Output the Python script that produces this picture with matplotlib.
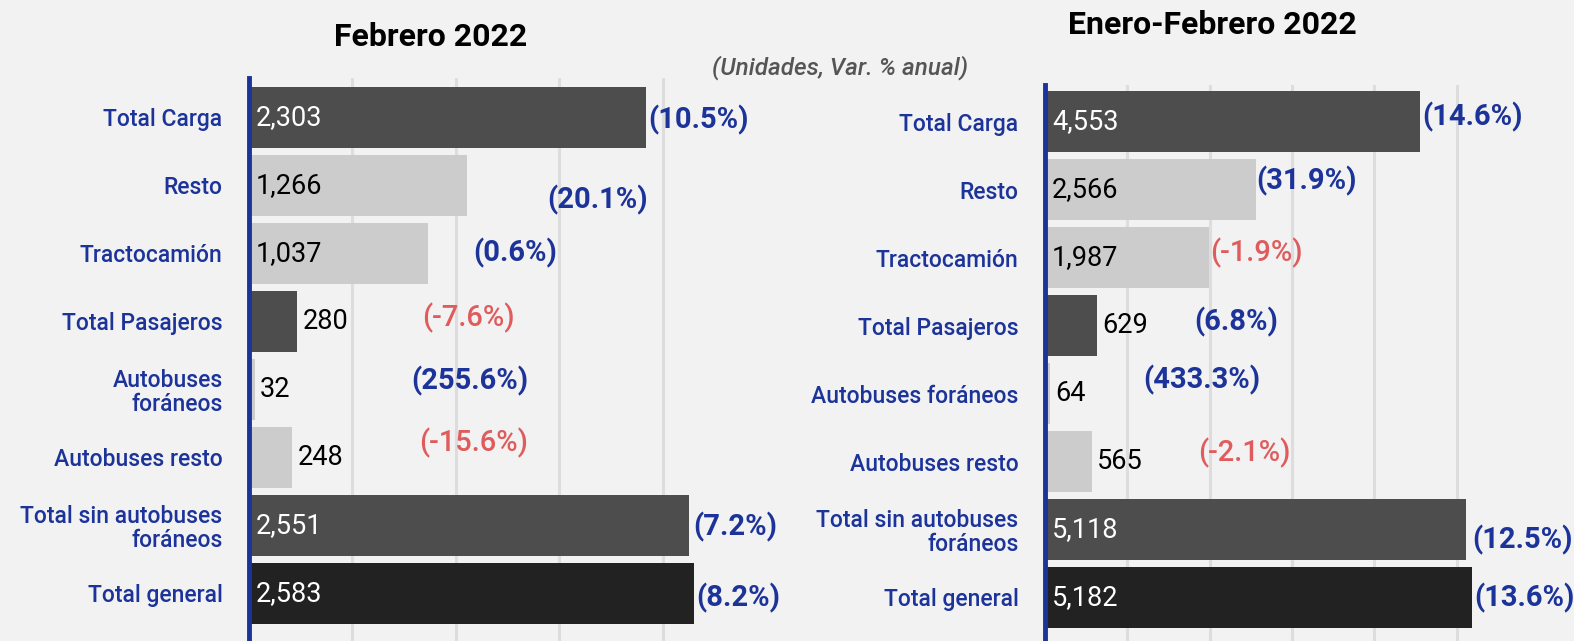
import matplotlib.pyplot as plt
import numpy as np

plt.rcParams['font.family'] = ['Roboto', 'DejaVu Sans']

# categorías
categorias = ['Total Carga', 'Resto', 'Tractocamión', 'Total Pasajeros',
              'Autobuses\nforáneos', 'Autobuses resto',
              'Total sin autobuses\nforáneos', 'Total general']
categorias_der = ['Total Carga', 'Resto', 'Tractocamión', 'Total Pasajeros',
                  'Autobuses foráneos', 'Autobuses resto',
                  'Total sin autobuses\nforáneos', 'Total general']

# Febrero 2022
feb_unidades = [2303, 1266, 1037, 280, 32, 248, 2551, 2583]
feb_var = [10.5, 20.1, 0.6, -7.6, 255.6, -15.6, 7.2, 8.2]

# Enero-Febrero 2022
ene_feb_unidades = [4553, 2566, 1987, 629, 64, 565, 5118, 5182]
ene_feb_var = [14.6, 31.9, -1.9, 6.8, 433.3, -2.1, 12.5, 13.6]

# colores de barras
colores_barras = ['#4d4d4d', '#cccccc', '#cccccc', '#4d4d4d',
                  '#cccccc', '#cccccc', '#4d4d4d', '#222222']

azul = '#1c3399'
rojo = '#e05c5c'
fondo = '#f2f2f2'

# posición de las etiquetas de variación (x en unidades, desplazamiento vertical)
pos_var_izq = [(2316, 0.04), (1731, 0.22), (1304, 0.0), (1006, -0.05),
               (942, -0.13), (988, -0.22), (2579, 0.03), (2596, 0.06)]
pos_var_der = [(4583, -0.07), (2561, -0.13), (2010, -0.07), (1814, -0.06),
               (1189, -0.2), (1863, -0.13), (5184, 0.16), (5208, 0.0)]


def dibujar(ax, valores, variaciones, etiquetas, pos_var, ticks, xmax, ymin, ymax):
    ax.set_facecolor(fondo)
    y = np.arange(len(valores))
    ax.barh(y, valores, height=0.9, color=colores_barras, zorder=2)
    ax.set_xlim(0, xmax)
    ax.set_ylim(ymax, ymin)
    ax.set_xticks(ticks)
    ax.set_xticklabels([])
    ax.grid(axis='x', color='#dddddd', linewidth=2.2, zorder=0)
    ax.tick_params(length=0)
    for s in ['top', 'right', 'bottom']:
        ax.spines[s].set_visible(False)
    ax.spines['left'].set_color(azul)
    ax.spines['left'].set_linewidth(3.5)
    ax.spines['left'].set_zorder(3)
    ax.set_yticks(y)
    ax.set_yticklabels(etiquetas, color=azul, fontsize=16.5, fontweight='medium',
                       linespacing=1.05)
    ax.tick_params(axis='y', pad=19)

    pad = xmax * 0.006
    for i, v in enumerate(valores):
        texto = f'{v:,}'
        if v > xmax * 0.2:
            col = 'white' if colores_barras[i] != '#cccccc' else 'black'
            ax.text(pad * 2.3, i, texto, va='center', ha='left', fontsize=19.5,
                    color=col, zorder=4)
        else:
            ax.text(v + pad * 1.8, i, texto, va='center', ha='left', fontsize=19.5,
                    color='black', zorder=4)

    for i, p in enumerate(variaciones):
        px, dy = pos_var[i]
        if p >= 0:
            ax.text(px, i + dy, f'({p:.1f}%)', va='center', ha='left',
                    fontsize=21, fontweight='bold', color=azul, clip_on=False)
        else:
            ax.text(px, i + dy, f'({p:.1f}%)', va='center', ha='left',
                    fontsize=21, fontweight='medium', color=rojo, clip_on=False)


fig = plt.figure(figsize=(15.74, 6.41), dpi=100)
fig.patch.set_facecolor(fondo)

ax1 = fig.add_axes([249 / 1574, 0, 517 / 1574, (641 - 78) / 641])
dibujar(ax1, feb_unidades, feb_var, categorias, pos_var_izq,
        [600, 1200, 1800, 2400], 3000, -0.58, 7.7)

ax2 = fig.add_axes([1045 / 1574, 0, 494 / 1574, (641 - 85) / 641])
dibujar(ax2, ene_feb_unidades, ene_feb_var, categorias_der, pos_var_der,
        [1000, 2000, 3000, 4000, 5000], 6000, -0.54, 7.64)

fig.text(431 / 1574, 1 - 37 / 641, 'Febrero 2022', ha='center', va='center',
         fontsize=23, fontweight='bold', color='black')
fig.text(1212 / 1574, 1 - 25 / 641, 'Enero-Febrero 2022', ha='center', va='center',
         fontsize=23, fontweight='bold', color='black')
fig.text(840 / 1574, 1 - 68 / 641, '(Unidades, Var. % anual)', ha='center',
         va='center', fontsize=17.5, fontstyle='italic', fontweight='medium',
         color='#555555')

fig.savefig('out.png', dpi=100, facecolor=fondo)
